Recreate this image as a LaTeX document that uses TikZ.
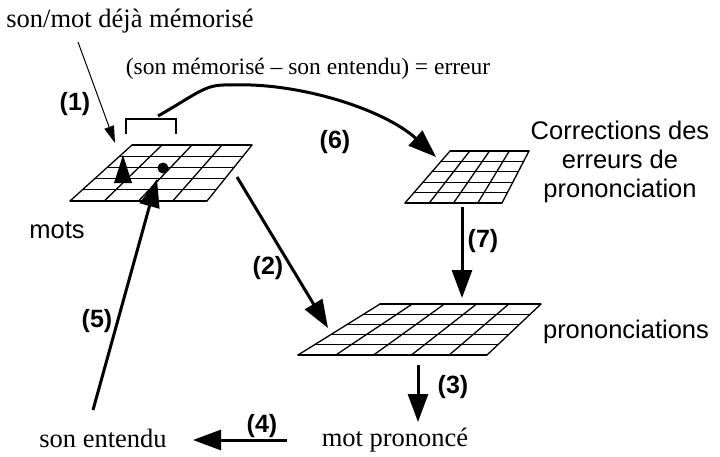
\documentclass[tikz,border=0pt]{standalone}
\usepackage{fontspec}
\setmainfont{Liberation Serif}
\setsansfont{Liberation Sans}
\usetikzlibrary{arrows.meta,calc}
\tikzstyle{txt}=[inner sep=0pt, font=\fontsize{26.5}{30}\selectfont, anchor=base]
\tikzstyle{etiq}=[inner sep=0pt, font=\fontsize{25.5}{29}\selectfont\sffamily]
\tikzstyle{num}=[inner sep=0pt, font=\fontsize{25}{29}\selectfont\sffamily\bfseries]
\tikzstyle{gridline}=[line width=1.3pt, line cap=round]
\tikzstyle{grosse}=[-{Triangle[length=28pt,width=20pt]}, line width=3pt]
\tikzstyle{fine}=[-{Triangle[length=17pt,width=10pt]}, line width=1pt]
% quadrillage entre les coins #1-tl, #1-tr, #1-bl, #1-br
\newcommand{\grille}[3]{%
  \foreach \i [evaluate=\i as \f using \i/#3] in {0,...,#3}
    \draw[gridline] ($(#1-tl)!\f!(#1-bl)$) -- ($(#1-tr)!\f!(#1-br)$);
  \foreach \j [evaluate=\j as \g using \j/#2] in {0,...,#2}
    \draw[gridline] ($(#1-tl)!\g!(#1-tr)$) -- ($(#1-bl)!\g!(#1-br)$);
}

\begin{document}
\begin{tikzpicture}[x=1pt, y=-1pt]
\useasboundingbox (0,0) rectangle (720,456);

% coins des trois cartes
\coordinate (mots-tl) at (132,145); \coordinate (mots-tr) at (252,145);
\coordinate (mots-bl) at (70,201);  \coordinate (mots-br) at (207,201);
\coordinate (corr-tl) at (450,151); \coordinate (corr-tr) at (529,151);
\coordinate (corr-bl) at (405,203); \coordinate (corr-br) at (502,203);
\coordinate (pron-tl) at (380,304); \coordinate (pron-tr) at (541,304);
\coordinate (pron-bl) at (298,355); \coordinate (pron-br) at (487,355);
\grille{mots}{4}{5}
\grille{corr}{4}{5}
\grille{pron}{5}{5}

% textes
\node (memo) [txt] at (130,27) {son/mot déjà mémorisé};
\node (err) [txt, font=\fontsize{23.5}{28}\selectfont] at (308,74) {(son mémorisé – son entendu) = erreur};
\node (entendu) [txt] at (103,447) {son entendu};
\node (prononce) [txt] at (395,446) {mot prononcé};
\node (mots) [etiq, anchor=base] at (57,238) {mots};
\node (pronlbl) [etiq, anchor=base] at (626,338) {prononciations};
\node (corrlbl) [etiq, align=center] at (620,162) {Corrections des\\erreurs de\\prononciation};

% numeros
\node (n1) [num] at (75,104) {(1)};
\node (n2) [num] at (268,268) {(2)};
\node (n3) [num] at (453,387) {(3)};
\node (n4) [num] at (262,426) {(4)};
\node (n5) [num] at (97,321) {(5)};
\node (n6) [num] at (335,142) {(6)};
\node (n7) [num] at (483,241) {(7)};

% extremites des fleches
\coordinate (a1) at (78,42);   \coordinate (b1) at (115,143);
\coordinate (a2) at (237,177); \coordinate (b2) at (328,328);
\coordinate (a3) at (418,365); \coordinate (b3) at (418,422);
\coordinate (a4) at (287,440); \coordinate (b4) at (193,440);
\coordinate (a5) at (93,410);  \coordinate (b5) at (157,179);
\coordinate (a6) at (158,116); \coordinate (b6) at (436,157);
\coordinate (a7) at (462,207); \coordinate (b7) at (462,298);
\coordinate (pt) at (163,168);

\draw[fine] (a1) -- (b1);
\draw[grosse] (a2) -- (b2);
\draw[grosse] (a3) -- (b3);
\draw[grosse] (a4) -- (b4);
\draw[grosse] (a5) -- (b5);
\draw[grosse] (a6) .. controls (200,92) and (205,84) .. (230,85)
  .. controls (300,82) and (385,110) .. (b6);
\draw[grosse] (a7) -- (b7);

% crochet, point et petite pointe
\draw[line width=1.3pt] (126,134) -- (126,119) -- (176,119) -- (176,134);
\fill (pt) circle (5.5);
\fill (123,155) -- (132,183) -- (114,183) -- cycle;
\end{tikzpicture}
\end{document}
